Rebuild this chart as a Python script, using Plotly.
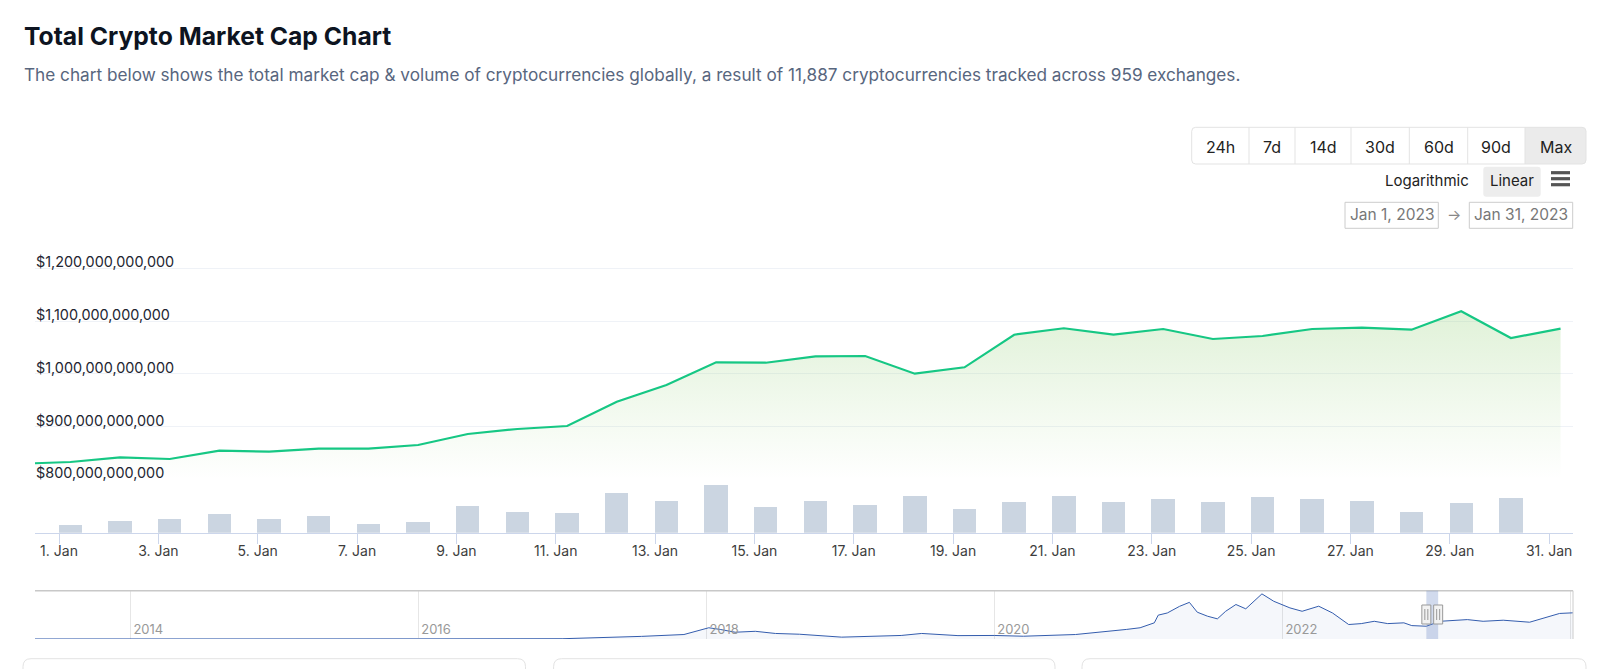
import plotly.graph_objects as go
import pandas as pd

# ---------------- data ----------------
price_dates = ["2022-12-31", "2023-01-01", "2023-01-02", "2023-01-03", "2023-01-04", "2023-01-05",
               "2023-01-06", "2023-01-07", "2023-01-08", "2023-01-09", "2023-01-10", "2023-01-11",
               "2023-01-12", "2023-01-13", "2023-01-14", "2023-01-15", "2023-01-16", "2023-01-17",
               "2023-01-18", "2023-01-19", "2023-01-20", "2023-01-21", "2023-01-22", "2023-01-23",
               "2023-01-24", "2023-01-25", "2023-01-26", "2023-01-27", "2023-01-28", "2023-01-29",
               "2023-01-30", "2023-01-31"]
market_cap_bn = [829.5, 832.8, 841.7, 838.5, 854.2, 852.3, 858.0, 858.0, 865.0, 885.9, 895.4, 901.0,
                 947.1, 978.8, 1021.8, 1021.0, 1033.2, 1033.7, 1000.2, 1012.3, 1074.1, 1086.3, 1074.1,
                 1084.9, 1066.0, 1071.7, 1084.9, 1087.4, 1083.6, 1118.5, 1067.9, 1085.5]

volume_dates = price_dates[1:31]
volume_bn = [16.1, 26.4, 29.3, 40.3, 29.3, 37.4, 18.3, 23.5, 58.7, 45.5, 42.5, 86.5, 69.7, 104.9, 55.7,
             69.7, 61.6, 80.7, 51.3, 66.7, 80.7, 67.5, 73.3, 67.5, 78.5, 73.3, 69.7, 45.5, 64.5, 75.5]

nav_dates = ["2013-05-01", "2013-12-01", "2014-06-01", "2015-01-01", "2016-01-01", "2016-12-31",
             "2017-05-01", "2017-07-20", "2017-11-05", "2017-12-05", "2018-01-07", "2018-02-05",
             "2018-03-15", "2018-05-05", "2018-06-25", "2018-08-25", "2018-12-10", "2019-05-10",
             "2019-07-01", "2019-10-01", "2020-01-01", "2020-03-15", "2020-07-25", "2020-12-01",
             "2021-01-05", "2021-02-10", "2021-02-20", "2021-03-15", "2021-04-15", "2021-05-10",
             "2021-05-30", "2021-06-25", "2021-07-20", "2021-08-10", "2021-09-05", "2021-09-30",
             "2021-10-22", "2021-11-10", "2021-12-10", "2022-01-20", "2022-02-20", "2022-03-10",
             "2022-04-03", "2022-05-08", "2022-06-18", "2022-07-20", "2022-08-22", "2022-09-25",
             "2022-11-05", "2022-11-25", "2023-01-01", "2023-02-05", "2023-03-10", "2023-04-15",
             "2023-05-25", "2023-07-15", "2023-09-20", "2023-11-10", "2023-12-05", "2024-01-08"]
nav_cap_tn = [0.002, 0.013, 0.007, 0.005, 0.007, 0.018,
              0.09, 0.17, 0.29, 0.51, 0.73, 0.62,
              0.44, 0.50, 0.36, 0.31, 0.12, 0.23,
              0.36, 0.22, 0.23, 0.18, 0.29, 0.62,
              0.73, 1.05, 1.55, 1.69, 2.12, 2.38,
              1.74, 1.48, 1.31, 1.80, 2.24, 1.96,
              2.45, 2.93, 2.45, 2.02, 1.80, 1.96,
              2.13, 1.69, 0.94, 1.00, 1.15, 1.00,
              1.05, 0.87, 0.83, 1.15, 1.20, 1.26,
              1.15, 1.22, 1.09, 1.48, 1.66, 1.70]

price_ticks_bn = [800, 900, 1000, 1100, 1200]
selected_range = ["2023-01-01", "2023-01-31"]
range_buttons = ["24h", "7d", "14d", "30d", "60d", "90d", "Max"]

title = "Total Crypto Market Cap Chart"
subtitle = ("The chart below shows the total market cap & volume of cryptocurrencies globally, "
            "a result of 11,887 cryptocurrencies tracked across 959 exchanges.")

# ---------------- geometry helpers ----------------
W, H = 1600, 669
PL, PR, PT, PB = 35, 1573, 250, 639
PW, PH = PR - PL, PB - PT


def fx(px):
    return (px - PL) / PW


def fy(py):
    return (PB - py) / PH


FONT = "Inter, 'Noto Sans', sans-serif"

# daily samples are stamped at 05:30
stamp = pd.Timedelta(hours=5, minutes=30)
px_dates = pd.to_datetime(price_dates) + stamp
vol_dates = pd.to_datetime(volume_dates) + stamp

fig = go.Figure()

fig.add_trace(go.Bar(
    x=vol_dates, y=[v * 1e9 for v in volume_bn], xaxis="x", yaxis="y2",
    width=11.3 * 3600 * 1000, marker=dict(color="#cbd5e1", line=dict(width=0)),
    hoverinfo="skip", showlegend=False))

fig.add_trace(go.Scatter(
    x=px_dates, y=[v * 1e9 for v in market_cap_bn], xaxis="x", yaxis="y",
    mode="lines", line=dict(color="#16c784", width=2.2),
    fill="tozeroy",
    fillgradient=dict(type="vertical", start=800e9, stop=1120e9,
                      colorscale=[[0, "rgba(140,205,110,0.0)"], [1, "rgba(140,205,110,0.27)"]]),
    showlegend=False))

fig.add_trace(go.Scatter(
    x=pd.to_datetime(nav_dates), y=nav_cap_tn, xaxis="x3", yaxis="y3",
    mode="lines", line=dict(color="#335cad", width=1),
    fill="tozeroy", fillcolor="rgba(51,92,173,0.05)", showlegend=False, hoverinfo="skip"))

ppb = (479.3 - 268.3) / 400.0
price_dom_bottom_px = 480.3
price_min = 800 - (price_dom_bottom_px - 479.3) / ppb
price_max = 800 + (479.3 - PT) / ppb

vol_top_px, vol_base_px = 481.0, 532.7
vol_max = (vol_base_px - vol_top_px) * (104.9 / 47.7)

nav_top_px = 590.7
nav_max = (PB - nav_top_px) / 15.4

fig.update_layout(
    width=W, height=H,
    margin=dict(l=PL, r=W - PR, t=PT, b=H - PB, autoexpand=False),
    paper_bgcolor="white", plot_bgcolor="white",
    font=dict(family=FONT, color="#222531"),
    bargap=0,
    xaxis=dict(domain=[0, 1], anchor="y2", type="date",
               range=["2022-12-31 12:24", "2023-01-31 11:31"],
               tick0="2023-01-01", dtick=2 * 86400000, tickformat="%-d. %b",
               ticks="outside", ticklen=10, tickcolor="#ccd6eb", tickwidth=1,
               ticklabelstandoff=-5,
               showline=True, linecolor="#ccd6eb", linewidth=1,
               showgrid=False, zeroline=False,
               tickfont=dict(family=FONT, size=14, color="#3d3d3d")),
    yaxis=dict(domain=[fy(price_dom_bottom_px), 1], anchor="x",
               range=[price_min * 1e9, price_max * 1e9],
               tickvals=[v * 1e9 for v in price_ticks_bn], tickformat="$,.0f",
               ticklabelposition="inside top", ticklabeloverflow="allow",
               ticklabelshift=4, ticklabelstandoff=-2,
               ticks="", showgrid=True, gridcolor="#eff2f7", gridwidth=1,
               zeroline=False, showline=False,
               tickfont=dict(family=FONT, size=14.4, color="#222531")),
    yaxis2=dict(domain=[fy(vol_base_px), fy(vol_top_px)], anchor="x",
                range=[0, vol_max * 1e9], showticklabels=False, showgrid=False,
                zeroline=False, showline=False),
    xaxis3=dict(domain=[0, 1], anchor="y3", type="date",
                range=["2013-05-04", "2024-01-08"],
                tick0="2014-01-01", dtick="M24", tickformat="%Y",
                ticklabelposition="inside right", ticks="",
                ticklabelshift=3, ticklabelstandoff=-4,
                showgrid=True, gridcolor="#e6e6e6", gridwidth=1,
                showline=False, zeroline=False,
                tickfont=dict(family=FONT, size=13, color="#999999")),
    yaxis3=dict(domain=[0, fy(nav_top_px)], anchor="x3", range=[0, nav_max],
                showticklabels=False, showgrid=False, zeroline=False, showline=False),
)

shapes = []
annotations = []


def rr_path(x0, y0, x1, y1, r, corners=(1, 1, 1, 1)):
    tl, tr, br, bl = [r * c for c in corners]
    p = [f"M{fx(x0 + tl)},{fy(y0)}", f"L{fx(x1 - tr)},{fy(y0)}"]
    p.append(f"Q{fx(x1)},{fy(y0)} {fx(x1)},{fy(y0 + tr)}")
    p.append(f"L{fx(x1)},{fy(y1 - br)}")
    p.append(f"Q{fx(x1)},{fy(y1)} {fx(x1 - br)},{fy(y1)}")
    p.append(f"L{fx(x0 + bl)},{fy(y1)}")
    p.append(f"Q{fx(x0)},{fy(y1)} {fx(x0)},{fy(y1 - bl)}")
    p.append(f"L{fx(x0)},{fy(y0 + tl)}")
    p.append(f"Q{fx(x0)},{fy(y0)} {fx(x0 + tl)},{fy(y0)}")
    p.append("Z")
    return " ".join(p)


def add_rr(x0, y0, x1, y1, r, fill="rgba(0,0,0,0)", line="#e0e0e0", lw=1, corners=(1, 1, 1, 1)):
    shapes.append(dict(type="path", xref="paper", yref="paper", path=rr_path(x0, y0, x1, y1, r, corners),
                       fillcolor=fill, line=dict(color=line, width=lw), layer="above"))


def add_line(x0, y0, x1, y1, color, lw=1):
    shapes.append(dict(type="line", xref="paper", yref="paper", x0=fx(x0), y0=fy(y0), x1=fx(x1), y1=fy(y1),
                       line=dict(color=color, width=lw), layer="above"))


def add_text(text, px, py, size, color, xanchor="center", bold=False):
    annotations.append(dict(text=f"<b>{text}</b>" if bold else text, xref="paper", yref="paper",
                            x=fx(px), y=fy(py), xanchor=xanchor, yanchor="middle", showarrow=False,
                            font=dict(family=FONT, size=size, color=color)))


# title & subtitle
add_text(title, 22, 36, 24.7, "#0d1421", xanchor="left", bold=True)
add_text(subtitle, 22, 74.5, 17.2, "#58667e", xanchor="left")

# range buttons
bx = [1191.7, 1249, 1295, 1351, 1409.3, 1467.7, 1525, 1586]
by0, by1 = 127.3, 164
add_rr(bx[-2], by0, bx[-1], by1, 4, fill="#ebebeb", line="rgba(0,0,0,0)", lw=0, corners=(0, 1, 1, 0))
add_rr(bx[0], by0, bx[-1], by1, 4, line="#e3e3e3")
for xd in bx[1:-1]:
    add_line(xd, by0, xd, by1, "#e3e3e3")
for i, lab in enumerate(range_buttons):
    add_text(lab, (bx[i] + bx[i + 1]) / 2, 147, 16, "#222222")

# scale toggle
add_rr(1483.3, 166.7, 1540.7, 196.7, 3, fill="#ededed", line="rgba(0,0,0,0)", lw=0)
add_text("Logarithmic", 1427.3, 180.5, 15, "#222222")
add_text("Linear", 1512, 180.5, 15, "#222222")
for yy in (172.7, 178.7, 184.7):
    add_line(1551, yy, 1570, yy, "#555555", lw=3.2)

# date inputs
shapes.append(dict(type="rect", xref="paper", yref="paper", x0=fx(1345), y0=fy(228.3), x1=fx(1438.3),
                   y1=fy(202.3), line=dict(color="#cccccc", width=1), layer="above"))
shapes.append(dict(type="rect", xref="paper", yref="paper", x0=fx(1469.3), y0=fy(228.3), x1=fx(1572.7),
                   y1=fy(202.3), line=dict(color="#cccccc", width=1), layer="above"))
add_text("Jan 1, 2023", 1391.7, 214.5, 15.5, "#777777")
add_text("→", 1453.5, 214.5, 15, "#888888")
add_text("Jan 31, 2023", 1521, 214.5, 15.5, "#777777")

# navigator outline, mask and handles
add_line(PL, nav_top_px, PR, nav_top_px, "#c8c8c8", lw=1.5)
add_line(PR, nav_top_px, PR, PB, "#cccccc", lw=1)
shapes.append(dict(type="rect", xref="x3", yref="paper", x0=selected_range[0], x1=selected_range[1],
                   y0=0, y1=fy(nav_top_px), fillcolor="rgba(102,133,194,0.3)", line=dict(width=0),
                   layer="above"))
for d in selected_range:
    shapes.append(dict(type="rect", xref="x3", yref="paper", xsizemode="pixel", xanchor=d,
                       x0=-4.5, x1=4.5, y0=fy(624), y1=fy(605), fillcolor="#f2f2f2",
                       line=dict(color="#999999", width=1), layer="above"))
    for off in (-1.5, 1.5):
        shapes.append(dict(type="line", xref="x3", yref="paper", xsizemode="pixel", xanchor=d,
                           x0=off, x1=off, y0=fy(620), y1=fy(609),
                           line=dict(color="#999999", width=1), layer="above"))

# cards below
for cx0, cx1 in ((23, 525.5), (553.6, 1055), (1082, 1586)):
    add_rr(cx0, 658.7, cx1, 700, 8, line="#e3e3e3")

fig.update_layout(shapes=shapes, annotations=annotations)

fig.write_html("out.html")
